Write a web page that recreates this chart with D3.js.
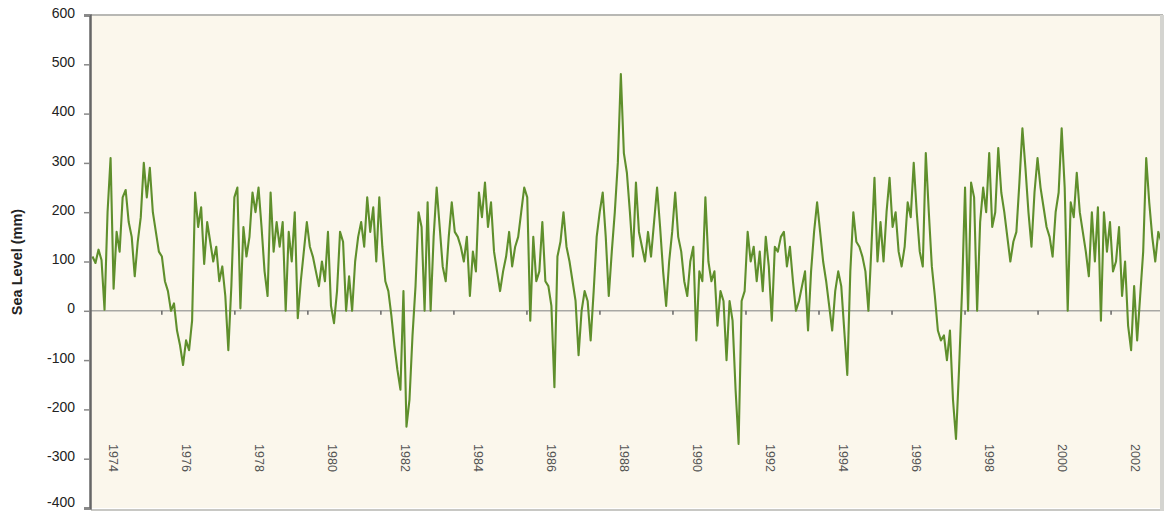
<!DOCTYPE html>
<html><head><meta charset="utf-8">
<script src="https://cdn.jsdelivr.net/npm/d3@7"></script>
<style>body{margin:0;background:#fff;}svg{display:block;}</style>
</head><body>
<svg id="chart" width="1167" height="512"></svg>
<script>
// Monthly-ish samples of sea level (mm)
const startYear = 1973.44;
const stepYears = 0.0827;
const seaLevel = [
110, 97, 124, 103, 2, 200, 310, 45, 160, 120,
230, 245, 180, 150, 70, 140, 190, 300, 230, 290,
200, 160, 120, 110, 60, 40, 0, 15, -40, -70,
-110, -60, -80, -20, 240, 170, 210, 95, 180, 140,
100, 130, 60, 90, 30, -80, 50, 230, 250, 5,
170, 110, 150, 240, 200, 250, 170, 80, 30, 240,
120, 180, 130, 180, 0, 160, 100, 200, -15, 60,
120, 180, 130, 110, 80, 50, 100, 60, 160, 10,
-25, 40, 160, 140, 0, 70, 0, 100, 150, 180,
130, 230, 160, 210, 100, 230, 130, 60, 40, -10,
-70, -120, -160, 40, -235, -180, -50, 50, 200, 170,
0, 220, 0, 150, 250, 170, 90, 60, 150, 220,
160, 150, 130, 100, 150, 30, 120, 80, 240, 190,
260, 170, 220, 120, 80, 40, 80, 110, 160, 90,
130, 150, 200, 250, 230, -20, 150, 60, 80, 180,
60, 50, 10, -155, 110, 140, 200, 130, 100, 60,
20, -90, 0, 40, 20, -60, 40, 150, 200, 240,
150, 30, 120, 200, 300, 480, 320, 280, 200, 110,
260, 160, 130, 100, 160, 110, 180, 250, 170, 80,
10, 100, 160, 240, 150, 120, 60, 30, 100, 130,
-60, 80, 60, 230, 100, 60, 80, -30, 40, 20,
-100, 20, -20, -160, -270, 20, 40, 160, 100, 130,
60, 120, 40, 150, 90, -20, 130, 120, 150, 160,
90, 130, 60, 0, 20, 50, 80, -40, 80, 160,
220, 160, 100, 60, 10, -40, 40, 80, 50, -40,
-130, 80, 200, 140, 130, 110, 80, 0, 130, 270,
100, 180, 100, 200, 270, 170, 200, 120, 90, 130,
220, 190, 300, 200, 120, 90, 320, 200, 90, 30,
-40, -60, -50, -100, -40, -180, -260, -120, 40, 250,
0, 260, 230, 0, 180, 250, 200, 320, 170, 200,
330, 240, 200, 150, 100, 140, 160, 260, 370, 290,
200, 130, 240, 310, 250, 210, 170, 150, 110, 200,
240, 370, 250, 0, 220, 190, 280, 200, 160, 120,
70, 200, 100, 210, -20, 200, 120, 180, 80, 100,
170, 30, 100, -30, -80, 50, -60, 30, 120, 310,
220, 150, 100, 160, 140
];
const yearLabels = [1974,1976,1978,1980,1982,1984,1986,1988,1990,1992,1994,1996,1998,2000,2002];
const zeroTickYears = [1975.34,1977.34,1979.34,1981.34,1983.34,1985.34,1987.34,1989.34,1991.34,1993.34,1995.34,1997.34,1999.34,2001.34];
const yTicks = [600,500,400,300,200,100,0,-100,-200,-300,-400];
const yTitle = "Sea Level (mm)";

const svg = d3.select("#chart");
const pLeft = 91, pRight = 1160, pTop = 15, pBottom = 508;
const x = d3.scaleLinear().domain([1973.40, 2002.68]).range([pLeft, pRight]);
const y = d3.scaleLinear().domain([-400, 600]).range([pBottom, pTop]);

// plot background
svg.append("rect").attr("x", pLeft).attr("y", pTop).attr("width", pRight - pLeft).attr("height", pBottom - pTop)
  .attr("fill", "#FBF7EC");
// borders
svg.append("line").attr("x1", pLeft).attr("x2", pRight + 3).attr("y1", pTop).attr("y2", pTop)
  .attr("stroke", "#b8b8b4").attr("stroke-width", 2);
svg.append("line").attr("x1", pLeft).attr("x2", pRight + 3).attr("y1", pBottom + 2).attr("y2", pBottom + 2)
  .attr("stroke", "#c8c8c4").attr("stroke-width", 2);
svg.append("line").attr("x1", pRight + 2).attr("x2", pRight + 2).attr("y1", pTop).attr("y2", pBottom + 3)
  .attr("stroke", "#d4d4d0").attr("stroke-width", 4);

// zero line
svg.append("line").attr("x1", pLeft).attr("x2", pRight).attr("y1", y(0)).attr("y2", y(0))
  .attr("stroke", "#a8a8a4").attr("stroke-width", 1.5);
svg.append("g").selectAll("line").data(zeroTickYears).join("line")
  .attr("x1", d => x(d)).attr("x2", d => x(d)).attr("y1", y(0)).attr("y2", y(0) + 4)
  .attr("stroke", "#666").attr("stroke-width", 1.5);

// data line
const data = seaLevel.map((v, i) => ({t: startYear + i * stepYears, v}));
svg.append("defs").append("clipPath").attr("id", "clip").append("rect")
  .attr("x", pLeft).attr("y", pTop).attr("width", pRight - pLeft).attr("height", pBottom - pTop);
svg.append("path").datum(data).attr("clip-path", "url(#clip)")
  .attr("fill", "none").attr("stroke", "#5F8F2C").attr("stroke-width", 2.1)
  .attr("stroke-linejoin", "round")
  .attr("d", d3.line().x(d => x(d.t)).y(d => y(d.v)));

// y axis
const yAxis = svg.append("g").attr("transform", `translate(${pLeft - 1},0)`)
  .call(d3.axisLeft(y).tickValues(yTicks).tickSize(6).tickPadding(9).tickFormat(d => String(d)));
yAxis.select(".domain").attr("stroke", "#666").attr("stroke-width", 2.5);
yAxis.selectAll(".tick line").attr("stroke", "#888").attr("stroke-width", 1.5);
yAxis.selectAll(".tick text").attr("font-family", "Liberation Sans, Arial, sans-serif")
  .attr("font-size", 14).attr("fill", "#222")
  .attr("dy", d => d === -400 ? "-0.12em" : "0.15em");

// year labels (rotated)
svg.append("g").selectAll("text").data(yearLabels).join("text")
  .attr("transform", d => `translate(${x(d) - 4},458) rotate(90)`)
  .attr("text-anchor", "middle")
  .attr("font-family", "Liberation Sans, Arial, sans-serif").attr("font-size", 12.5)
  .attr("fill", "#555").text(d => d);

// y title
svg.append("text").attr("transform", `translate(22,${262}) rotate(-90)`)
  .attr("text-anchor", "middle").attr("font-family", "Liberation Sans, Arial, sans-serif")
  .attr("font-weight", "bold").attr("font-size", 14.5).attr("fill", "#222").text(yTitle);
</script>
</body></html>
